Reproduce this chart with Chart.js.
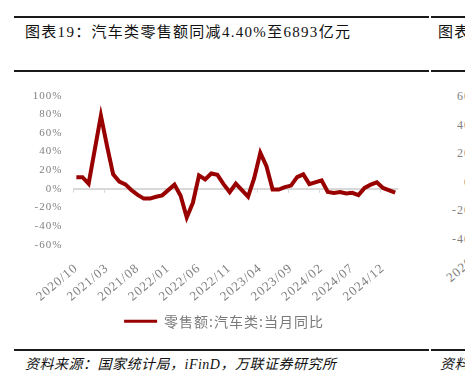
<!DOCTYPE html>
<html>
<head>
<meta charset="utf-8">
<script src="https://cdn.jsdelivr.net/npm/chart.js@4.4.1/dist/chart.umd.min.js"></script>
<style>
body { margin: 0; width: 465px; height: 382px; overflow: hidden; background: #fff; position: relative;
  font-family: "Liberation Serif", "Noto Sans CJK SC", serif; }
.rule { position: absolute; height: 2px; background: #1a1a1a; }
.txt { position: absolute; white-space: nowrap; }
.tick { position: absolute; white-space: nowrap; font-size: 12px; line-height: 14px; color: #808080; letter-spacing: 1px; }
#wrap { position: absolute; left: 0; top: 72px; width: 465px; height: 273px; }
</style>
</head>
<body>

<div class="rule" style="left:14px;top:16px;width:415px"></div>
<div class="rule" style="left:431px;top:16px;width:40px"></div>
<div class="txt" style="left:25px;top:22px;font-size:15px;line-height:20px;letter-spacing:1.3px;color:#111">图表19：汽车类零售额同减4.40%至6893亿元</div>
<div class="txt" style="left:438px;top:22px;font-size:15px;line-height:20px;letter-spacing:1.3px;color:#111">图表</div>
<div class="rule" style="left:14px;top:70px;width:415px"></div>
<div class="rule" style="left:431px;top:70px;width:40px"></div>

<!-- 右侧被截断的下一张图 -->
<div class="tick" style="right:-6px;top:89px">60</div>
<div class="tick" style="right:-6px;top:118px">40</div>
<div class="tick" style="right:-6px;top:146px">20</div>
<div class="tick" style="right:-6px;top:175px">0</div>
<div class="tick" style="right:-6px;top:203px">-20</div>
<div class="tick" style="right:-6px;top:232px">-40</div>
<div class="tick" style="left:452px;top:271px;font-size:13px;line-height:13px;transform-origin:0 100%;transform:rotate(-40deg)">2020/10</div>

<div class="rule" style="left:14px;top:349px;width:415px"></div>
<div class="rule" style="left:431px;top:349px;width:40px"></div>
<div class="txt" style="left:25px;top:356px;font-size:14px;line-height:18px;letter-spacing:0.5px;font-style:italic;color:#111">资料来源：国家统计局，iFinD，万联证券研究所</div>
<div class="txt" style="left:440px;top:356px;font-size:14px;line-height:18px;letter-spacing:0.5px;font-style:italic;color:#111">资料</div>

<div id="wrap"><canvas id="c"></canvas></div>

<script>
// 月份（2020/10 - 2025/02）
const months = [
  '2020/10','2020/11','2020/12',
  '2021/01','2021/02','2021/03','2021/04','2021/05','2021/06','2021/07','2021/08','2021/09','2021/10','2021/11','2021/12',
  '2022/01','2022/02','2022/03','2022/04','2022/05','2022/06','2022/07','2022/08','2022/09','2022/10','2022/11','2022/12',
  '2023/01','2023/02','2023/03','2023/04','2023/05','2023/06','2023/07','2023/08','2023/09','2023/10','2023/11','2023/12',
  '2024/01','2024/02','2024/03','2024/04','2024/05','2024/06','2024/07','2024/08','2024/09','2024/10','2024/11','2024/12',
  '2025/01','2025/02'
];
// 零售额:汽车类:当月同比 (%)，1月无单月数据
const autoYoY = [
  12.5, 12.5, 5.5,
  null, 78.5, 46, 15.5, 7.7, 4.8, -1.5, -6.5, -10.5, -10.5, -8.5, -7,
  null, 4.5, -7.5, -30.7, -15, 14.4, 10, 16.5, 15, 5, -3.5, 5.5,
  null, -8.5, 11.5, 38.6, 24.3, -0.8, -0.8, 1.8, 3.5, 12.5, 15.5, 5,
  null, 9, -3.3, -4.5, -3.5, -5, -4.3, -6.8, 1, 4.5, 7, 1,
  null, -4
];
const seriesName = '零售额:汽车类:当月同比';
const yTicks = { min: -60, max: 100, step: 20 };
const labelEvery = 5;

const gray = '#808080';
const red = '#990000';

// 字间距（画布状态在每次布局/绘制前重设）
const spacing = {
  id: 'spacing',
  beforeLayout(chart) { chart.ctx.letterSpacing = '1px'; },
  beforeDraw(chart) { chart.ctx.letterSpacing = '1px'; }
};

// 零线上的刻度线
const zeroTicks = {
  id: 'zeroTicks',
  beforeDatasetsDraw(chart) {
    const x = chart.scales.x, y = chart.scales.y, ctx = chart.ctx;
    const y0 = y.getPixelForValue(0);
    const half = (x.getPixelForValue(1) - x.getPixelForValue(0)) / 2;
    ctx.save();
    ctx.strokeStyle = '#d9d9d9';
    ctx.lineWidth = 1;
    for (let i = 0; i < months.length; i += labelEvery) {
      const px = Math.round(x.getPixelForValue(i) - half) + 0.5;
      ctx.beginPath();
      ctx.moveTo(px, y0);
      ctx.lineTo(px, y0 + 4);
      ctx.stroke();
    }
    ctx.restore();
  }
};

new Chart(document.getElementById('c'), {
  type: 'line',
  data: {
    labels: months,
    datasets: [{
      label: seriesName,
      data: autoYoY,
      borderColor: red,
      backgroundColor: red,
      borderWidth: 4,
      pointRadius: 0,
      tension: 0,
      spanGaps: true
    }]
  },
  options: {
    responsive: true,
    maintainAspectRatio: false,
    animation: false,
    layout: { padding: { left: 0, right: 17, top: 23.7, bottom: 6.8 } },
    scales: {
      x: {
        offset: true,
        grid: { display: false },
        border: { display: false },
        afterFit(s) { s.height = 59.5; },
        ticks: {
          autoSkip: false,
          minRotation: 40,
          maxRotation: 40,
          padding: 8,
          color: gray,
          font: { family: '"Liberation Serif", serif', size: 13 },
          callback: (v, i) => i % labelEvery === 0 ? months[i] : ''
        }
      },
      y: {
        min: yTicks.min,
        max: yTicks.max,
        border: { display: false },
        afterFit(s) { s.width = 73.3; },
        grid: {
          drawTicks: false,
          lineWidth: 2,
          color: ctx => ctx.tick && ctx.tick.value === 0 ? '#d9d9d9' : 'rgba(0,0,0,0)'
        },
        ticks: {
          stepSize: yTicks.step,
          padding: 11,
          color: gray,
          font: { family: '"Liberation Serif", serif', size: 11 },
          callback: v => v + '%'
        }
      },
      // 右侧留白，使图例居中位置与原图一致
      spacer: {
        position: 'right',
        grid: { display: false },
        border: { display: false },
        ticks: { display: false },
        afterFit(s) { s.width = 49.7; }
      }
    },
    plugins: {
      legend: {
        position: 'bottom',
        labels: {
          boxWidth: 33,
          boxHeight: 3,
          padding: 10,
          color: '#7a7a7a',
          font: { family: '"Noto Sans CJK SC", sans-serif', size: 14 },
          generateLabels(chart) {
            return Chart.defaults.plugins.legend.labels.generateLabels(chart)
              .map(item => Object.assign(item, { lineWidth: 0 }));
          }
        }
      },
      tooltip: { enabled: false }
    }
  },
  plugins: [spacing, zeroTicks]
});
</script>
</body>
</html>
